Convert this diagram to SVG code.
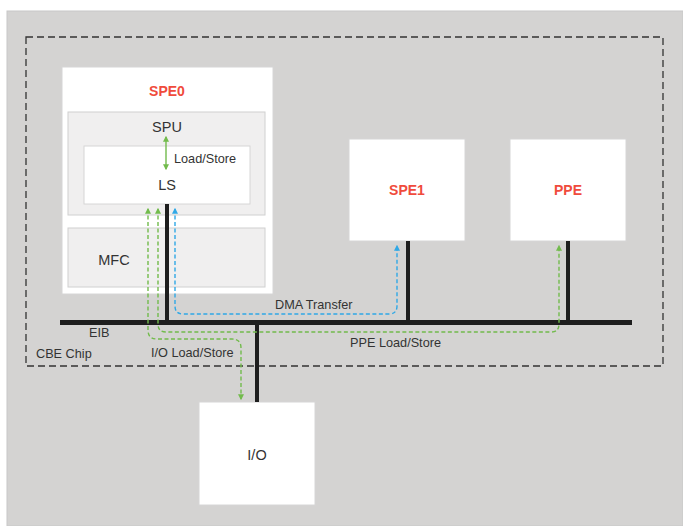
<svg xmlns="http://www.w3.org/2000/svg" width="683" height="526" viewBox="0 0 683 526">
<defs>
<style>
text{font-family:"Liberation Sans",Arial,sans-serif;fill:#333;}
.lbl{font-size:12.7px;}
.nm{font-size:14.5px;text-anchor:middle;}
.red{font-size:14px;font-weight:bold;fill:#f04b3c;text-anchor:middle;}
.box{fill:#fff;stroke:#d6d6d6;stroke-width:1;}
.sub{fill:#f0efef;stroke:#d0d0d0;stroke-width:1;}
.bus{stroke:#1e1e1e;stroke-width:5;fill:none;}
.stub{stroke:#1e1e1e;stroke-width:4;fill:none;}
.g{stroke:#72bb4c;stroke-width:1.4;fill:none;stroke-dasharray:4 2.5;}
.gs{stroke:#72bb4c;stroke-width:1.4;fill:none;}
.b{stroke:#2fa8e6;stroke-width:1.4;fill:none;stroke-dasharray:4 2.5;}
</style>
<marker id="ag" viewBox="0 0 10 10" refX="8" refY="5" markerWidth="6" markerHeight="6" markerUnits="userSpaceOnUse" orient="auto-start-reverse"><path d="M0,0L10,5L0,10z" fill="#72bb4c"/></marker>
<marker id="ab" viewBox="0 0 10 10" refX="8" refY="5" markerWidth="6" markerHeight="6" markerUnits="userSpaceOnUse" orient="auto-start-reverse"><path d="M0,0L10,5L0,10z" fill="#2fa8e6"/></marker>
</defs>
<rect x="0" y="0" width="683" height="526" fill="#fff"/>
<rect x="7" y="11" width="676" height="515" fill="#d4d3d2" stroke="#c8c8c8" stroke-width="1"/>
<g id="cbe-chip">
<rect x="26" y="37" width="637" height="329" fill="none" stroke="#333" stroke-width="1.3" stroke-dasharray="7 4"/>
<text class="lbl" x="36" y="358">CBE Chip</text>
</g>
<g id="spe0">
<rect class="box" x="62" y="67" width="211" height="227"/>
<text class="red" x="167" y="96">SPE0</text>
<g id="spu">
<rect class="sub" x="68" y="112" width="197" height="103"/>
<text class="nm" x="167" y="132">SPU</text>
</g>
<g id="ls">
<rect class="box" x="84" y="146" width="166" height="58"/>
<text class="nm" x="167" y="190">LS</text>
</g>
<g id="mfc">
<rect class="sub" x="68" y="228" width="197" height="59"/>
<text class="nm" x="114" y="265">MFC</text>
</g>
</g>
<g id="spe1">
<rect class="box" x="349" y="139" width="116" height="102"/>
<text class="red" x="407" y="195">SPE1</text>
</g>
<g id="ppe">
<rect class="box" x="510" y="139" width="116" height="102"/>
<text class="red" x="568" y="195">PPE</text>
</g>
<g id="io">
<rect class="box" x="199" y="402" width="116" height="103"/>
<text class="nm" x="257" y="460">I/O</text>
</g>
<g id="connectors">
<line class="bus" x1="60" y1="322.5" x2="632" y2="322.5"/>
<line class="stub" x1="167" y1="204" x2="167" y2="322"/>
<line class="stub" x1="408" y1="241" x2="408" y2="322"/>
<line class="stub" x1="568" y1="241" x2="568" y2="322"/>
<line class="stub" x1="257" y1="322" x2="257" y2="402"/>
<text class="lbl" x="89" y="337">EIB</text>
<path class="gs" d="M166,137L166,169" marker-start="url(#ag)" marker-end="url(#ag)"/>
<text class="lbl" x="174" y="163">Load/Store</text>
<path class="b" d="M175,209L175,306Q175,314 183,314L389,314Q397,314 397,306L397,246" marker-start="url(#ab)" marker-end="url(#ab)"/>
<text class="lbl" x="275" y="309">DMA Transfer</text>
<path class="g" d="M158,209L158,324Q158,332 166,332L551,332Q559,332 559,324L559,246" marker-start="url(#ag)" marker-end="url(#ag)"/>
<text class="lbl" x="350" y="347">PPE Load/Store</text>
<path class="g" d="M148,209L148,330Q148,339 157,339L232,339Q241,339 241,348L241,399" marker-start="url(#ag)" marker-end="url(#ag)"/>
<text class="lbl" x="151" y="357">I/O Load/Store</text>
</g>
</svg>
